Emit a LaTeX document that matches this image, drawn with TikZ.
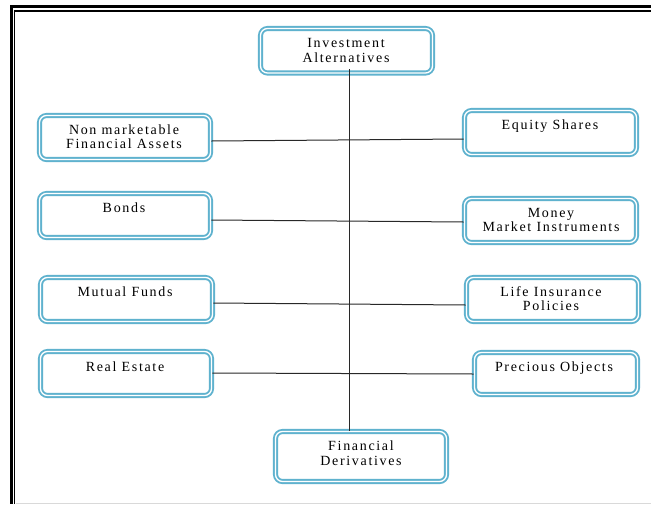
\documentclass[tikz,border=0pt]{standalone}
\usepackage{fontspec}
\setmainfont{Liberation Serif}[LetterSpace=12]
\definecolor{boxblue}{RGB}{95,178,206}
\definecolor{linegray}{RGB}{40,40,40}
\begin{document}
\begin{tikzpicture}[x=1pt,y=-1pt,
  box/.style={draw=boxblue, double=white, line width=1.9pt, double distance=1.3pt,
    rounded corners=7pt, fill=white, inner sep=0pt, minimum width=171pt, minimum height=44pt},
  txt/.style={inner sep=0pt, align=center, text=black,
    font=\fontsize{14pt}{14.5pt}\selectfont,
    execute at begin node=\strut, execute at end node=\strut},
  conn/.style={draw=linegray, line width=1pt}]
\useasboundingbox (0,0) rectangle (651,504);
% frame
\draw[line width=3pt] (10,6.5) -- (651,6.5);
\draw[line width=1.4pt] (14,10.8) -- (651,10.8);
\draw[line width=2.7pt] (11.3,5) -- (11.3,504);
\draw[line width=1.3pt] (14.7,10.1) -- (14.7,504);
\draw[black!15, line width=1pt] (16,503.5) -- (651,503.5);
% boxes
\node[box, minimum width=172pt, minimum height=44.5pt] (ia) at (346.5,50.75) {};
\node[box] (nm) at (125,137.5) {};
\node[box, minimum width=172pt] (eq) at (550.5,132.5) {};
\node[box] (bo) at (125,215.5) {};
\node[box, minimum width=172pt] (mm) at (550.5,220.5) {};
\node[box, minimum width=172pt] (mf) at (126.5,299.5) {};
\node[box, minimum width=172pt] (li) at (552.5,299.5) {};
\node[box] (re) at (126,373.5) {};
\node[box, minimum width=163pt, minimum height=42pt] (po) at (556,373.5) {};
\node[box, minimum height=50pt] (fd) at (361,456.5) {};
% texts
\node[txt] (iaT) at (346,52.5) {Investment\\Alternatives};
\node[txt] (nmT) at (124,139) {Non marketable\\Financial Assets};
\node[txt] (eqT) at (550,127) {Equity Shares};
\node[txt] (boT) at (124,210) {Bonds};
\node[txt] (mmT) at (551,222) {Money\\Market Instruments};
\node[txt] (mfT) at (125,294) {Mutual Funds};
\node[txt] (liT) at (551,300.5) {Life Insurance\\Policies};
\node[txt] (reT) at (125,369) {Real Estate};
\node[txt] (poT) at (554,369) {Precious Objects};
\node[txt] (fdT) at (361,455.5) {Financial\\Derivatives};
% connectors
\coordinate (vtop) at (349.5,69);
\draw[conn] (vtop) -- (vtop |- fd.north);
\draw[conn] (nm.east |- 0,141) -- (eq.west |- 0,139);
\draw[conn] (bo.east |- 0,220) -- (mm.west |- 0,222);
\draw[conn] (mf.east |- 0,303) -- (li.west |- 0,305);
\draw[conn] (re.east |- 0,373) -- (po.west |- 0,374);
\end{tikzpicture}
\end{document}
